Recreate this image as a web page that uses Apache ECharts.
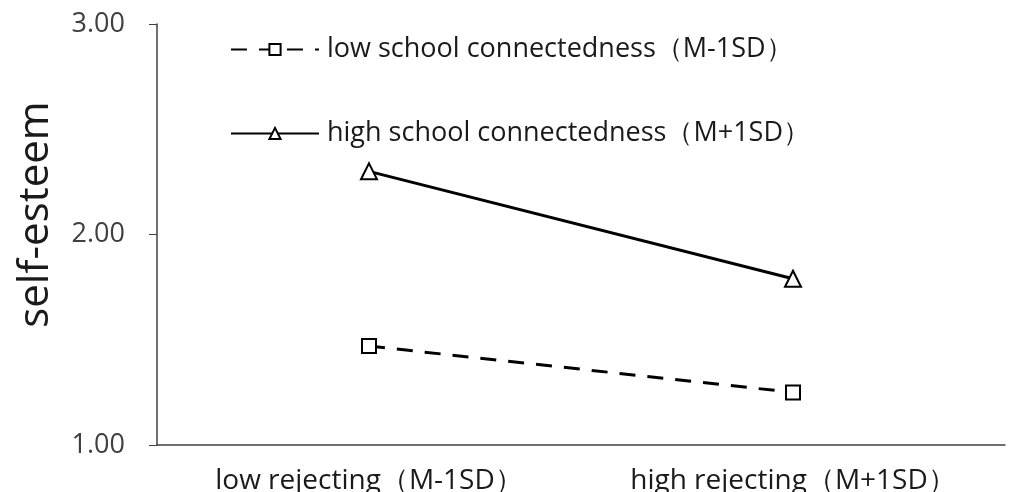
<!DOCTYPE html>
<html><head><meta charset="utf-8">
<script src="https://cdn.jsdelivr.net/npm/echarts@6/dist/echarts.min.js"></script>
<style>html,body{margin:0;padding:0;background:#fff}#c{width:1009px;height:492px}</style>
</head><body><div id="c"></div>
<script>
const categories = ['low rejecting（M-1SD）', 'high rejecting（M+1SD）'];
const lowConnect = [1.47, 1.25];
const highConnect = [2.30, 1.79];
const seriesNames = ['low school connectedness（M-1SD）', 'high school connectedness（M+1SD）'];
const yTicks = { min: 1, max: 3, interval: 1 };

const chart = echarts.init(document.getElementById('c'));
const font = '"Open Sans", "Noto Sans", sans-serif';
chart.setOption({
  animation: false,
  grid: { left: 157, right: 4, top: 24, bottom: 47, containLabel: false, outerBoundsMode: 'none' },
  legend: {
    orient: 'vertical', left: 225, top: 31, itemWidth: 88, itemHeight: 14, itemGap: 57,
    textStyle: { fontSize: 27, color: '#1a1a1a', fontFamily: font, padding: [0, 0, 0, 3] },
    data: seriesNames
  },
  xAxis: {
    type: 'category', data: categories, boundaryGap: true,
    axisLine: { lineStyle: { color: '#404040', width: 1.5 } },
    axisTick: { alignWithLabel: true, length: 6, lineStyle: { color: '#404040' } },
    axisLabel: { fontSize: 28, color: '#1a1a1a', margin: 22, fontFamily: font }
  },
  yAxis: {
    type: 'value', min: yTicks.min, max: yTicks.max, interval: yTicks.interval,
    name: 'self-esteem', nameLocation: 'middle', nameGap: 100, nameRotate: 90,
    nameTextStyle: { fontSize: 42, color: '#1a1a1a', fontFamily: font, padding: [0, 0, 0, 40] },
    splitLine: { show: false },
    axisLine: { show: true, lineStyle: { color: '#404040', width: 1.5 } },
    axisTick: { show: true, inside: false, length: 8, lineStyle: { color: '#404040' } },
    axisLabel: { fontSize: 27, color: '#404040', margin: 32, fontFamily: font, formatter: v => v.toFixed(2) }
  },
  series: [
    {
      name: seriesNames[0], type: 'line', data: lowConnect,
      symbol: 'rect', symbolSize: 14,
      lineStyle: { color: '#000', width: 3, type: [16, 12] },
      itemStyle: { color: '#fff', borderColor: '#000', borderWidth: 2 }
    },
    {
      name: seriesNames[1], type: 'line', data: highConnect,
      symbol: 'triangle', symbolSize: 16,
      lineStyle: { color: '#000', width: 3 },
      itemStyle: { color: '#fff', borderColor: '#000', borderWidth: 2 }
    }
  ]
});
</script></body></html>
